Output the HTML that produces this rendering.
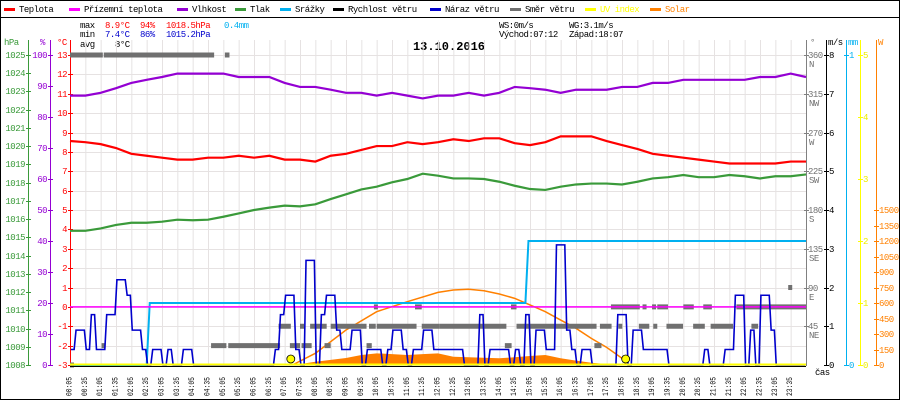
<!DOCTYPE html>
<html><head><meta charset="utf-8"><style>
html,body{margin:0;padding:0;background:#fff}
svg{display:block}
text{font-family:"Liberation Mono",monospace;font-size:9px;letter-spacing:-0.5px}
</style></head><body>
<svg id="chart" width="900" height="400" viewBox="0 0 900 400">
<rect x="0.5" y="0.5" width="899" height="399" fill="#fff" stroke="#000"/>
<line x1="0" y1="17.5" x2="900" y2="17.5" stroke="#000"/>
<g id="legend"></g>
<g>
<text x="80" y="28" fill="#000">max</text><text x="105" y="28" fill="#f00">8.9°C</text><text x="140" y="28" fill="#f00">94%</text><text x="166" y="28" fill="#f00">1018.5hPa</text><text x="224" y="28" fill="#00b0f0">0.4mm</text>
<text x="80" y="37" fill="#000">min</text><text x="105" y="37" fill="#00c">7.4°C</text><text x="140" y="37" fill="#00c">86%</text><text x="166" y="37" fill="#00c">1015.2hPa</text>
<text x="80" y="47" fill="#000">avg</text><text x="115" y="47" fill="#000">8°C</text>
<text x="499" y="28" fill="#000">WS:0m/s</text><text x="569" y="28" fill="#000">WG:3.1m/s</text>
<text x="499" y="37" fill="#000">Východ:07:12</text><text x="569" y="37" fill="#000">Západ:18:07</text>
</g>
<text x="449" y="50" text-anchor="middle" style="font-size:12px;font-weight:bold;letter-spacing:0">13.10.2016</text>
<g id="grid"></g><g id="axes"></g><g id="series"></g>
</svg>
<script>
// ---- data ----
var halfHours = [0,0.5,1,1.5,2,2.5,3,3.5,4,4.5,5,5.5,6,6.5,7,7.5,8,8.5,9,9.5,10,10.5,11,11.5,12,12.5,13,13.5,14,14.5,15,15.5,16,16.5,17,17.5,18,18.5,19,19.5,20,20.5,21,21.5,22,22.5,23,23.5,24];
var temperature = [8.56,8.5,8.4,8.2,7.9,7.8,7.7,7.6,7.6,7.7,7.7,7.8,7.7,7.8,7.6,7.6,7.5,7.8,7.9,8.1,8.3,8.3,8.5,8.4,8.5,8.65,8.56,8.7,8.7,8.45,8.35,8.5,8.8,8.8,8.8,8.56,8.35,8.15,7.9,7.8,7.7,7.6,7.5,7.4,7.4,7.4,7.4,7.5,7.5];
var humidity = [86.9,86.9,87.8,89.3,91,92,92.9,94,94,94,94,92.9,92.9,92.9,91,89.7,89.7,88.8,87.8,87.8,86.9,87.8,86.9,86,86.9,86.9,87.8,86.9,87.8,89.7,89.3,88.8,87.8,88.8,88.8,88.8,89.7,89.7,91,91,92,92,92,92,92,92.9,92.9,94,92.9];
var pressure = [1015.36,1015.36,1015.49,1015.68,1015.8,1015.8,1015.86,1015.97,1015.94,1015.97,1016.13,1016.31,1016.5,1016.63,1016.74,1016.7,1016.81,1017.1,1017.36,1017.63,1017.78,1018.02,1018.2,1018.49,1018.38,1018.23,1018.23,1018.2,1018.05,1017.83,1017.65,1017.6,1017.78,1017.9,1017.95,1017.95,1017.9,1018.05,1018.23,1018.3,1018.42,1018.3,1018.3,1018.42,1018.35,1018.23,1018.35,1018.35,1018.45];
var apparentTemp = [0,0];
var apparentHours = [0,24];
// gust in m/s, 10-minute steps from 00:00
var gust = [0.4,0.9,0.9,0.4,1.3,0.4, 0.4,1.3,1.3,2.2,2.2,1.8, 0.9,0.9,0.4,0,0.4,0.4, 0,0.4,0,0,0.4,0.4, 0,0,0,0,0,0, 0,0,0,0,0,0,
 0,0,0,0,0.4,1.3, 1.8,1.8,0.4,0,2.7,2.7, 0,1.3,1.8,1.8,0.9,0.4, 0.4,0.9,0.9,0,0.4,0.4, 0.4,0,0.4,0.9,0.9,0.4, 0,0.4,0.4,0.9,0.9,0.4,
 0.4,0.4,0.4,0.4,0.4,0, 0,0,1.3,0,0.4,0.4, 0.4,0.4,0,0.4,0,1.3, 0,0.9,0.9,0.4,0.4,3.1, 3.1,0.9,0.4,0,0.4,0.4, 0,0,0,0,0,1.3,
 1.3,0,0.9,0.9,0.4,0.4, 0.4,0.4,0.4,0,0,0, 0,0,0,0,0.4,0, 0,0,0.4,0.4,1.8,1.8, 0,0.9,0,1.8,1.8,0.9, 0,0,0,0,0,0];
var rainHours = [0,2.5,2.6,14.85,14.95,24];
var rainMm = [0,0,0.2,0.2,0.4,0.4];
var solarHours = [7.3,8,8.5,9,9.5,10,10.5,11,11.5,12,12.5,13,13.5,14,14.5,15,15.5,16,16.5,17,17.5,18];
var solarW = [0,32,50,68,97,113,105,97,105,113,80,75,70,65,75,87,97,65,42,22,10,0];
var solarMaxHours = [7.25,8,9,10,11,12,12.5,13,13.5,14,14.5,15,15.5,16,16.5,17,17.5,18,18.15];
var solarMaxW = [0,113,339,516,613,703,726,733,719,687,645,581,516,435,355,258,171,65,0];
var dirStart = [0,1.1,5.05,0,1.03,4.6,5.16,7.17,7.55,8.3,9.67,6.8,7.5,7.83,8.5,9.75,10,11.47,12.06,14.56,17.28,17.88,18.55,19.02,19.45,20.32,20.89,22.22,14.18,17.1,9.91,11.25,14.38,17.64,18.67,18.98,19.15,20,20.65,21.73,23.42];
var dirEnd   = [1.07,4.7,5.2,0.09,1.14,5.1,6.85,7.5,7.88,8.5,9.84,7.2,7.63,8.37,9.67,9.97,11.3,12.06,14.23,17.17,17.66,17.98,18.89,19.15,19.99,20.7,21.62,22.44,14.4,17.33,10.02,11.47,14.56,18.58,18.74,19.07,19.5,20.34,20.93,24,23.53];
var dirDeg   = [360,360,360,0,22.5,22.5,22.5,22.5,22.5,22.5,22.5,45,45,45,45,45,45,45,45,45,45,45,45,45,45,45,45,45,22.5,22.5,67.5,67.5,67.5,67.5,67.5,67.5,67.5,67.5,67.5,67.5,90];
var sunEvents = [7.2,18.12];
var hpaTicks = [1008,1009,1010,1011,1012,1013,1014,1015,1016,1017,1018,1019,1020,1021,1022,1023,1024,1025];
var pctTicks = [0,10,20,30,40,50,60,70,80,90,100];
var degCTicks = [-3,-2,-1,0,1,2,3,4,5,6,7,8,9,10,11,12,13];
var dirTicks = [45,90,135,180,225,270,315,360];
var dirNames = ["NE","E","SE","S","SW","W","NW","N"];
var msTicks = [0,1,2,3,4,5,6,7,8];
var uvTicks = [0,1,2,3,4,5];
var wTicks = [0,150,300,450,600,750,900,1050,1200,1350,1500];
var legendNames = ["Teplota","Přízemní teplota","Vlhkost","Tlak","Srážky","Rychlost větru","Náraz větru","Směr větru","UV index","Solar"];
var legendColors = ["#f00","#f0f","#9400d3","#3a9a3a","#00b0f0","#000","#00c","#707070","#ff0","#ff8000"];
var legendX = [4,69,177,235,280,333,430,510,585,650];

// ---- scales ----
function X(h){return 70+h*30.6667;}
function yT(t){return 365-(t+3)*19.375;}
function yH(p){return 365-p*3.1;}
function yP(p){return 365-(p-1008)*18.235;}
function yW(v){return 365-v*38.75;}
function yR(v){return 365-v*310;}
function yS(v){return 365-v*0.10333;}
function yD(v){return 365-v*0.8611;}

var NS="http://www.w3.org/2000/svg";
function mk(tag,attrs,parent){var e=document.createElementNS(NS,tag);for(var k in attrs)e.setAttribute(k,attrs[k]);parent.appendChild(e);return e;}
var grid=document.getElementById('grid'),axes=document.getElementById('axes'),ser=document.getElementById('series'),leg=document.getElementById('legend');
var el;

// legend
for(var i=0;i<legendNames.length;i++){
  el=mk('rect',{x:legendX[i],y:8,width:11,height:3,fill:legendColors[i]},leg);
  
  
  el=mk('text',{x:legendX[i]+15,y:12,fill:(i>=8?legendColors[i]:'#000')},leg);
  el.textContent=legendNames[i];
  
  
}

// grid
for(var i=0;i<=48;i++){
  el=mk('line',{x1:X(i/2)+0.5,y1:40,x2:X(i/2)+0.5,y2:365,stroke:'#e6e2e2'},grid);
  
  
}
for(var i=0;i<degCTicks.length;i++){
  var yy=Math.round(yT(degCTicks[i]))+0.5;
  el=mk('line',{x1:70,y1:yy,x2:806,y2:yy,stroke:'#e6e2e2'},grid);
  
  
}

// axes
function vaxis(x,color,name){el=mk('line',{x1:x+0.5,y1:40,x2:x+0.5,y2:366,stroke:color},axes);}
vaxis(28,'#3a9a3a','pressure-axis');vaxis(50,'#9400d3','humidity-axis');vaxis(70,'#f00','temperature-axis');
vaxis(806,'#808080','direction-axis');vaxis(826,'#000','wind-speed-axis');vaxis(846,'#00b0f0','rain-axis');vaxis(860,'#ff0','uv-axis');vaxis(876,'#ff8000','solar-axis');
function tickLabel(x,y,txt,color,anchor,name){el=mk('text',{x:x,y:y+3,fill:color,'text-anchor':anchor},axes);el.textContent=txt;}
function tick(x,y,color){el=mk('line',{x1:x-2,y1:y+0.5,x2:x+3,y2:y+0.5,stroke:color},axes);}
hpaTicks.forEach(function(v){var y=Math.round(yP(v));tick(28,y,'#3a9a3a');tickLabel(25,y,String(v),'#3a9a3a','end','pressure-tick-label');});
pctTicks.forEach(function(v){var y=Math.round(yH(v));tick(50,y,'#9400d3');tickLabel(47,y,String(v),'#9400d3','end','humidity-tick-label');});
degCTicks.forEach(function(v){var y=Math.round(yT(v));tick(70,y,'#f00');tickLabel(67,y,String(v),'#f00','end','temperature-tick-label');});
dirTicks.forEach(function(v,i){var y=Math.round(yD(v));tick(806,y,'#808080');tickLabel(808,y,String(v),'#707070','start','direction-tick-label');tickLabel(809,y+9,dirNames[i],'#707070','start','direction-name-label');});
msTicks.forEach(function(v){var y=Math.round(yW(v));tick(826,y,'#000');tickLabel(829,y,String(v),'#000','start','wind-tick-label');});
[0,1].forEach(function(v){var y=Math.round(yR(v));tick(846,y,'#00b0f0');tickLabel(849,y,String(v),'#00b0f0','start','rain-tick-label');});
uvTicks.forEach(function(v){var y=Math.round(365-v*62);tick(860,y,'#ff0');tickLabel(863,y,String(v),'#ee0','start','uv-tick-label');});
wTicks.forEach(function(v){var y=Math.round(yS(v));tick(876,y,'#ff8000');tickLabel(879,y,String(v),'#ff8000','start','solar-tick-label');});
tickLabel(4,42,'hPa','#3a9a3a','start','pressure-unit');tickLabel(40,42,'%','#9400d3','start','humidity-unit');tickLabel(57,42,'°C','#f00','start','temperature-unit');
tickLabel(810,42,'°','#707070','start','direction-unit');tickLabel(828,42,'m/s','#000','start','wind-unit');tickLabel(848,42,'mm','#00b0f0','start','rain-unit');tickLabel(878,42,'W','#ff8000','start','solar-unit');
tickLabel(815,372,'čas','#000','start','x-axis-title');
for(var i=0;i<48;i++){
  var hh=Math.floor(i/2),mm=(i%2)?'35':'05';
  var lab=(hh<10?'0':'')+hh+':'+mm;
  var cx=68.5+i*15.333;
  el=mk('text',{x:cx+3,y:396,transform:'rotate(-90 '+(cx+3)+' 396)',textLength:19,lengthAdjust:'spacingAndGlyphs',style:'font-size:8px;letter-spacing:0'},axes);
  el.textContent=lab;
  
  
}

// series
var pts=[];
// solar area
pts=[X(solarHours[0])+','+365];
for(var i=0;i<solarHours.length;i++)pts.push(X(solarHours[i])+','+yS(solarW[i]));
pts.push(X(solarHours[solarHours.length-1])+',365');
el=mk('polygon',{points:pts.join(' '),fill:'#ff8000'},ser);


pts=[];for(var i=0;i<solarMaxHours.length;i++)pts.push(X(solarMaxHours[i])+','+yS(solarMaxW[i]));
el=mk('polyline',{points:pts.join(' '),fill:'none',stroke:'#ff8000','stroke-width':1.5},ser);


// rain
pts=[];for(var i=0;i<rainHours.length;i++)pts.push(X(rainHours[i])+','+yR(rainMm[i]));
el=mk('polyline',{points:pts.join(' '),fill:'none',stroke:'#00b0f0','stroke-width':2},ser);


// direction
for(var i=0;i<dirDeg.length;i++){
  var x1=X(dirStart[i]),x2=Math.max(X(dirEnd[i]),x1+4);
  el=mk('rect',{x:x1,y:yD(dirDeg[i])-2.5,width:x2-x1,height:5,fill:'#707070'},ser);
  
  
}
// apparent temp
el=mk('line',{x1:X(apparentHours[0]),y1:yT(apparentTemp[0]),x2:X(apparentHours[1]),y2:yT(apparentTemp[1]),stroke:'#f0f','stroke-width':1.5},ser);


function line(arr,fy,color,name){var p=[];for(var i=0;i<halfHours.length;i++)p.push(X(halfHours[i])+','+fy(arr[i]));var e=mk('polyline',{points:p.join(' '),fill:'none',stroke:color,'stroke-width':2.2},ser);return e;}
el=line(pressure,yP,'#3a9a3a');


el=line(temperature,yT,'#f00');


el=line(humidity,yH,'#9400d3');


// gust stepped
pts=[];
for(var i=0;i<gust.length;i++){var h0=i/6;pts.push(X(h0+0.03)+','+yW(gust[i]));pts.push(X(h0+0.135)+','+yW(gust[i]));}
el=mk('polyline',{points:pts.join(' '),fill:'none',stroke:'#00c','stroke-width':1.6},ser);


// UV + x axis
el=mk('line',{x1:70,y1:366.5,x2:806,y2:366.5,stroke:'#000','stroke-width':1},ser);


el=mk('line',{x1:70,y1:364.5,x2:806,y2:364.5,stroke:'#ff0','stroke-width':2},ser);


sunEvents.forEach(function(h){
  el=mk('circle',{cx:X(h),cy:359,r:4,fill:'#ff0',stroke:'#000','stroke-width':0.8},ser);
  
  
});
</script>
</body></html>
